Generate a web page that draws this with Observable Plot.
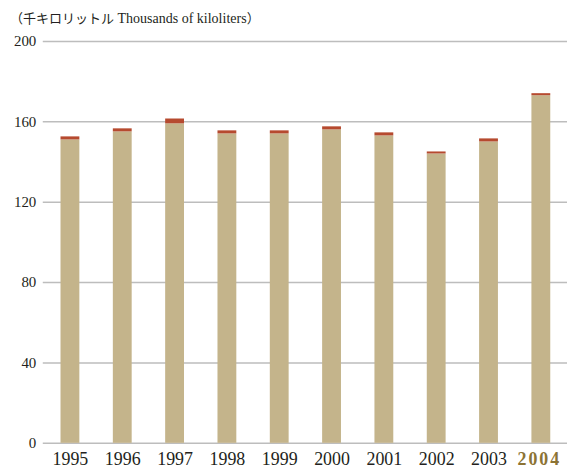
<!DOCTYPE html>
<html>
<head>
<meta charset="utf-8">
<script src="https://cdn.jsdelivr.net/npm/d3@7"></script>
<script src="https://cdn.jsdelivr.net/npm/@observablehq/plot@0.6"></script>
<style>
  html, body { margin: 0; padding: 0; background: #fff; }
  #title { height: 30px; box-sizing: border-box; padding-left: 10px; padding-top: 10px;
    font-family: "Liberation Serif", "Times New Roman", serif; font-size: 14px; color: #231f20; line-height: 16px; white-space: nowrap; }
  #title .ja { font-family: "Noto Sans CJK JP", sans-serif; font-size: 13px; }
  svg { display: block; overflow: visible; }
</style>
</head>
<body>
<div id="title"><span class="ja">（千キロリットル</span> Thousands of kiloliters<span class="ja">）</span></div>
<div id="chart"></div>
<script>
const years = ["1995","1996","1997","1998","1999","2000","2001","2002","2003","2004"];
const baseValues = [151, 155, 159, 154, 154, 156, 153, 144, 150, 173];
const topValues = [1.5, 1.5, 2.4, 1.5, 1.5, 1.5, 1.5, 1, 1.5, 1];
const seriesNames = ["base", "top"];
const yTicks = [0, 40, 80, 120, 160, 200];
const highlightYear = "2004";

const rows = [];
years.forEach((y, i) => {
  rows.push({year: y, series: seriesNames[0], value: baseValues[i]});
  rows.push({year: y, series: seriesNames[1], value: topValues[i]});
});

const chart = Plot.plot({
  width: 570,
  height: 439,
  marginTop: 11,
  marginBottom: 24,
  marginLeft: 43,
  marginRight: 0,
  style: {fontFamily: "Liberation Serif, Times New Roman, serif", color: "#231f20", background: "transparent"},
  x: {domain: years, paddingInner: 0.64, paddingOuter: 0.32, insetLeft: 1, round: false, label: null},
  y: {domain: [0, 200], label: null},
  color: {domain: seriesNames, range: ["#c4b48b", "#b64a2f"]},
  marks: [
    Plot.gridY(yTicks, {stroke: "#bdbdbd", strokeOpacity: 1, strokeWidth: 1.5}),
    Plot.axisY(yTicks, {tickSize: 0, tickPadding: 7, fontSize: 15, fill: "#231f20", label: null}),
    Plot.barY(rows, Plot.stackY({x: "year", y: "value", fill: "series", order: seriesNames})),
    Plot.axisX(years.filter(d => d !== highlightYear), {tickSize: 0, tickPadding: 9, fontSize: 18, fill: "#231f20", label: null}),
    Plot.axisX([highlightYear], {tickSize: 0, tickPadding: 9, fontSize: 18, dx: -2, fill: "#8c7334", fontWeight: 600, label: null})
  ]
});
d3.select(chart).selectAll("text").filter(function() { return this.textContent === highlightYear; })
  .style("letter-spacing", "2px");
document.getElementById("chart").appendChild(chart);
</script>
</body>
</html>
